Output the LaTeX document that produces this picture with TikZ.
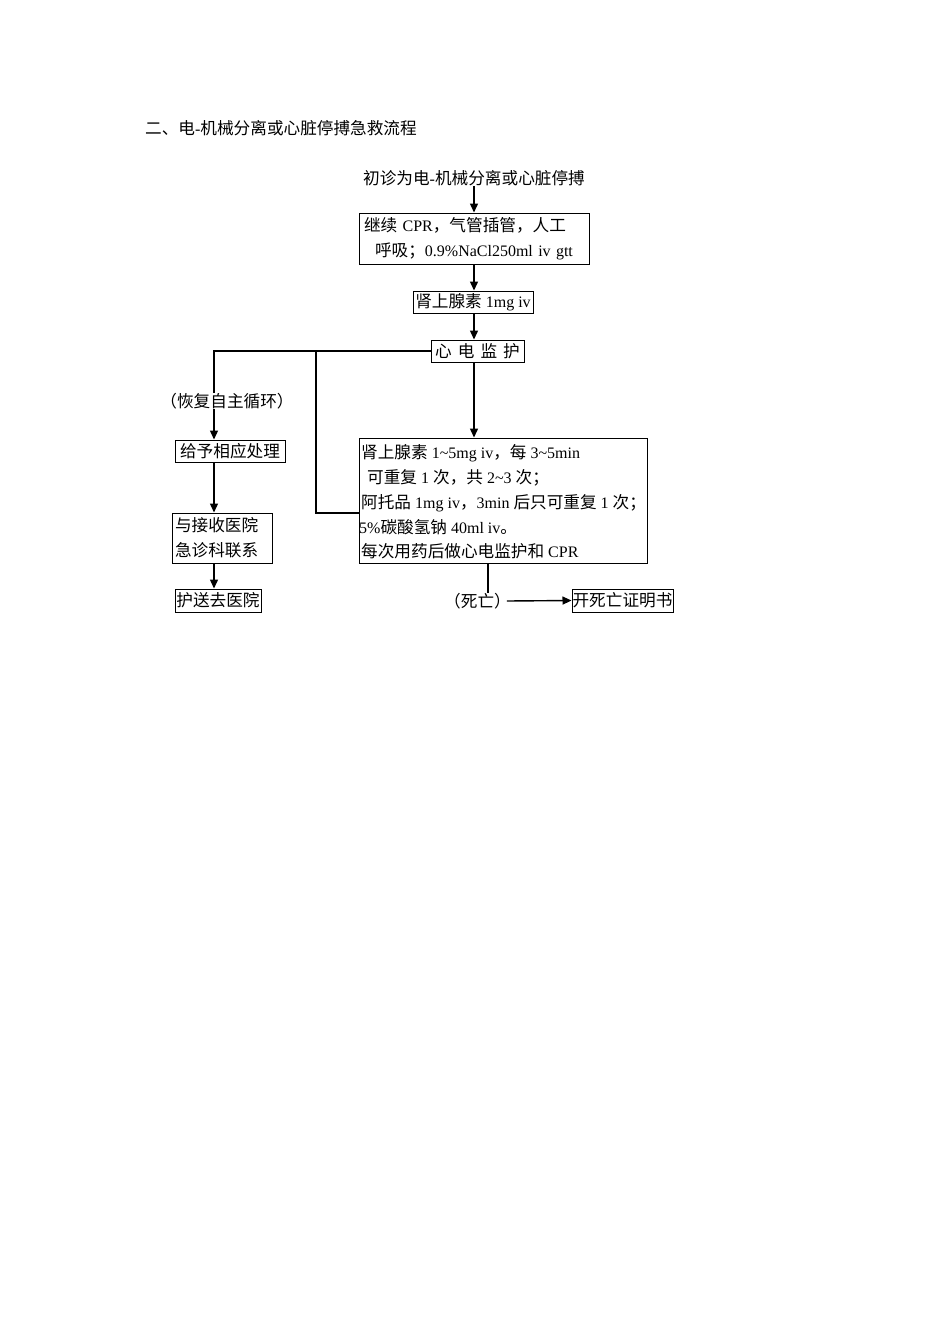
\documentclass[tikz,border=0pt]{standalone}
\usepackage{fontspec}
\setmainfont{Liberation Serif}
\newfontfamily\cjkf[Scale=1.04]{Noto Sans CJK SC}
\newcommand\cj[1]{{\cjkf #1}}
\usetikzlibrary{arrows.meta}
\begin{document}
\begin{tikzpicture}[x=1pt,y=-1pt,
  every node/.style={font=\fontsize{16}{24.8}\selectfont, inner sep=0pt},
  box/.style={draw, line width=1pt, align=center},
  lbox/.style={draw, line width=1pt, align=left, inner xsep=3pt},
  conn/.style={line width=1.4pt},
  arr/.style={line width=1.4pt, -{Triangle[length=9pt,width=8pt]}}]
\useasboundingbox (0,0) rectangle (950,1344);
\fill[white] (0,0) rectangle (950,1344);

\node[anchor=west] (title) at (145,128) {\cj{二、电}-\cj{机械分离或心脏停搏急救流程}};

\node (init) at (474,178) {\cj{初诊为电}-\cj{机械分离或心脏停搏}};

\node[lbox, minimum width=230pt, minimum height=51pt, text width=220pt, inner xsep=5pt] (b1) at (474,238.5)
  {\rule{0pt}{15pt}\cj{继续} CPR\cj{，气管插管，人工}\\\hspace*{11pt}\cj{呼吸；}0.9\%NaCl250ml iv gtt};

\node[box, minimum width=120pt, minimum height=22pt] (b2) at (473,302) {\cj{肾上腺素} 1mg iv};

\node[box, minimum width=93pt, minimum height=22pt] (b3) at (477.5,351) {\cj{心\hspace{6pt}电\hspace{6pt}监\hspace{6pt}护}};

\node (rec) at (227,401) {\cj{（恢复自主循环）}};
\node[box, minimum width=110pt, minimum height=22pt] (give) at (230,451) {\cj{给予相应处理}};
\node[lbox, minimum width=100pt, minimum height=50pt, text width=94pt] (contact) at (222,538)
  {\cj{与接收医院}\\\cj{急诊科联系}};
\node[box, minimum width=86pt, minimum height=23pt] (escort) at (218,600.5) {\cj{护送去医院}};

\node[draw, line width=1pt, minimum width=288pt, minimum height=125pt] (b4) at (503,500.5) {};
\node[anchor=west, align=left] (b4t) at (361,502)
  {\cj{肾上腺素} 1\textasciitilde5mg iv\cj{，每} 3\textasciitilde5min\\
   \hspace*{6pt}\cj{可重复} 1 \cj{次，共} 2\textasciitilde3 \cj{次；}\\
   \cj{阿托品} 1mg iv\cj{，}3min \cj{后只可重复} 1 \cj{次；}\\
   \hspace*{-2pt}5\%\cj{碳酸氢钠} 40ml iv\cj{。}\\
   \cj{每次用药后做心电监护和} CPR};

\node (death) at (477.5,601) {\cj{（死亡）}};
\node[box, minimum width=101pt, minimum height=23pt] (cert) at (622.5,600.5) {\cj{开死亡证明书}};

\coordinate (lx) at (214,351);
\coordinate (mx) at (316,351);
\coordinate (my) at (316,513);
\coordinate (dx) at (488,563);

\draw[arr] (init.south) -- (b1.north);
\draw[arr] (b1.south) -- (b1.south |- b2.north);
\draw[arr] (b2.south -| b1.south) -- (b1.south |- b3.north);
\draw[conn] (b3.west) -- (lx) -- (lx |- rec.north);
\draw[arr] (lx |- rec.south) -- (lx |- give.north);
\draw[arr] (lx |- give.south) -- (lx |- contact.north);
\draw[arr] (lx |- contact.south) -- (lx |- escort.north);
\draw[conn] (mx) -- (my) -- (my -| b4.west);
\draw[arr] (b1.south |- b3.south) -- (b1.south |- b4.north);
\draw[conn] (dx) -- (dx |- death.north);
\draw[arr] ([xshift=-4pt]death.east) -- (cert.west);
\end{tikzpicture}
\end{document}
